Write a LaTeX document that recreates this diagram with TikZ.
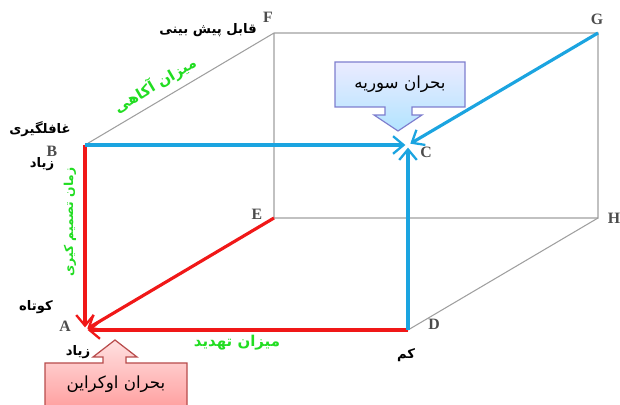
\documentclass[tikz,border=0pt]{standalone}
\usepackage{fontspec}
\setmainfont{Liberation Serif}
\newfontfamily\fa[Script=Arabic]{DejaVu Sans}
\TeXXeTstate=1
\usetikzlibrary{arrows.meta}
\definecolor{cubeblue}{HTML}{1BA4E0}
\definecolor{cubered}{HTML}{F01818}
\definecolor{lblgreen}{HTML}{22DD22}
\newcommand{\faText}[1]{{\fa\beginR #1\endR}}
\tikzstyle{every node}=[font=\fontsize{7.5}{9}\selectfont]
\tikzstyle{edge}=[draw=gray!75,line width=0.6pt]
\tikzstyle{redarrow}=[draw=cubered,line width=1.8pt,shorten >=1.5pt,-{Straight Barb[length=6pt,width=10pt,line width=1.3pt]}]
\tikzstyle{bluearrow}=[draw=cubeblue,line width=1.8pt,shorten >=1.5pt,-{Straight Barb[length=6pt,width=10pt,line width=1.3pt]}]
\tikzstyle{corner}=[text=black!70,font=\fontsize{9}{10}\selectfont\bfseries]
\tikzstyle{axislbl}=[font=\fontsize{7.5}{9}\selectfont\bfseries]
\tikzstyle{greenlbl}=[text=lblgreen,font=\fontsize{8.5}{10}\selectfont\bfseries]
\tikzstyle{callblue}=[draw=blue!45!gray!70,line width=0.7pt,top color=blue!8,bottom color=blue!35!cyan!30]
\tikzstyle{callred}=[draw=red!60!black!70,line width=0.7pt,top color=red!12,bottom color=red!40]

\begin{document}
\begin{tikzpicture}[x=0.02cm,y=-0.02cm]
\useasboundingbox (0,0) rectangle (620,405);
\clip (0,0) rectangle (620,405);
%Corners of the cube
 %front face
	\coordinate (A) at (85,330);
	\coordinate (B) at (85,145);
	\coordinate (C) at (408,145);
	\coordinate (D) at (408,330);
 %back face
	\coordinate (E) at (274,218);
	\coordinate (F) at (274,33);
	\coordinate (G) at (598,33);
	\coordinate (H) at (598,218);
%Grey edges
	\draw[edge] (B) -- (F) -- (G) -- (H) -- (E) -- (F);
	\draw[edge] (D) -- (H);
%Red paths into A
	\draw[redarrow] (B) -- (A);
	\draw[redarrow] (E) -- (A);
	\draw[redarrow] (D) -- (A);
%Blue paths into C
	\draw[bluearrow] (B) -- (C);
	\draw[bluearrow] (G) -- (C);
	\draw[bluearrow] (D) -- (C);
%Corner letters
	\node[corner] (lA) at (65,326) {A};
	\node[corner] (lB) at (52,151) {B};
	\node[corner] (lC) at (426,152) {C};
	\node[corner] (lD) at (434,324) {D};
	\node[corner] (lE) at (257,214) {E};
	\node[corner] (lF) at (268,17) {F};
	\node[corner] (lG) at (597,19) {G};
	\node[corner] (lH) at (614,218) {H};
%Axis labels
	\node[axislbl] (predict) at (208,30) {\faText{قابل پیش بینی}};
	\node[axislbl] (surprise) at (40,129) {\faText{غافلگیری}};
	\node[axislbl] (muchB) at (42,164) {\faText{زیاد}};
	\node[axislbl] (short) at (36,307) {\faText{کوتاه}};
	\node[axislbl] (muchA) at (78,352) {\faText{زیاد}};
	\node[axislbl] (low) at (406,355) {\faText{کم}};
	\node[greenlbl,rotate=30.6,inner sep=0pt] (aware) at (155,85) {\faText{میزان آکاهی}};
	\node[greenlbl,rotate=90,inner sep=0pt,font=\fontsize{7}{8}\selectfont\bfseries] (decide) at (70,222) {\faText{زمان تصمیم کیری}};
	\node[greenlbl] (threat) at (237,343) {\faText{میزان تهدید}};
%Callouts
	\path[callblue] (335,62) -- (465,62) -- (465,107) -- (412,107) -- (412,115) -- (422,115) -- (398,131) -- (374,115) -- (385,115) -- (385,107) -- (335,107) -- cycle;
	\node[font=\fontsize{9.5}{11}\selectfont] (syria) at (400,84) {\faText{بحران سوریه}};
	\path[callred] (45,363) -- (103,363) -- (103,357) -- (93,357) -- (115,340) -- (137,357) -- (126,357) -- (126,363) -- (187,363) -- (187,415) -- (45,415) -- cycle;
	\node[font=\fontsize{9.5}{11}\selectfont] (ukraine) at (116,384) {\faText{بحران اوکراین}};
\end{tikzpicture}
\end{document}
